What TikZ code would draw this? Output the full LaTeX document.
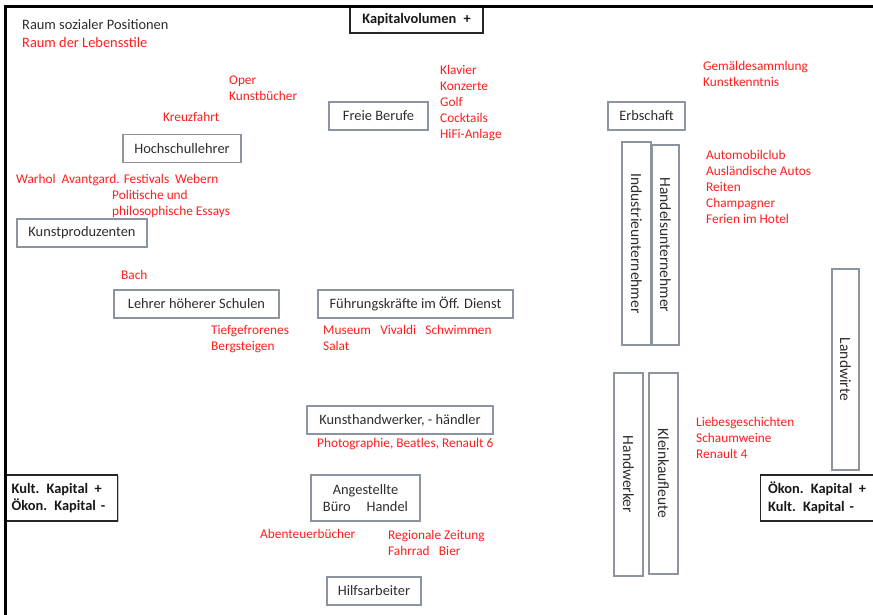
\documentclass[tikz,border=0pt]{standalone}
\usepackage{fontspec}
\setmainfont{Carlito}
\usetikzlibrary{shadows}
\definecolor{boxgray}{RGB}{140,148,160}
\definecolor{txtdark}{RGB}{45,45,45}
\definecolor{lred}{RGB}{255,30,30}
\begin{document}
\begin{tikzpicture}[x=1pt,y=-1pt,
  every node/.style={font=\fontsize{14.4}{17}\selectfont},
  posbox/.style={draw=boxgray,line width=1.1pt,text=txtdark,inner sep=0pt,minimum height=28},
  vbox/.style={posbox,rotate=-90,font=\fontsize{15.5}{17}\selectfont},
  kapbox/.style={draw=black!85,line width=1.2pt,text=black!90,fill=white,font=\bfseries\fontsize{14.4}{17.5}\selectfont,inner sep=0pt,
     drop shadow={shadow xshift=1.2pt,shadow yshift=-1.2pt,fill=black!45}},
  lst/.style={text=lred,anchor=base west,align=left,inner sep=0pt,font=\fontsize{13.3}{16}\selectfont},
  ttl/.style={anchor=base west,inner sep=0pt}]
\useasboundingbox (0,0) rectangle (873,615);
\fill[white] (0,0) rectangle (873,615);
% Kapital boxes
\node[kapbox,minimum width=133,minimum height=26] (kv) at (416.5,20) {Kapitalvolumen\hspace{0.5em}+};
\node[kapbox,minimum width=112,minimum height=46,align=left,anchor=west,text width=100,inner xsep=5pt] (kk) at (5,498) {Kult. Kapital\hspace{0.45em}+\\Ökon. Kapital -};
\node[kapbox,minimum width=125,minimum height=46,align=left,anchor=west,text width=110,inner xsep=7pt] (ok) at (760,498) {Ökon. Kapital\hspace{0.45em}+\\Kult. Kapital -};
% frame
\draw[line width=2.8pt,black] (5.5,615) coordinate (fbl) -- (5.5,6.5) coordinate (ftl) -- (873,6.5) coordinate (ftr);
% titles
\node[ttl,text=txtdark] (t1) at (22,30) {Raum sozialer Positionen};
\node[ttl,text=lred] (t2) at (22,48) {Raum der Lebensstile};
% position boxes
\node[posbox,minimum width=99] (fb) at (378.5,116) {Freie Berufe};
\node[posbox,minimum width=77] (eb) at (646.5,116) {Erbschaft};
\node[posbox,minimum width=118] (hl) at (182,148.5) {Hochschullehrer};
\node[posbox,minimum width=130] (kp) at (82,233) {Kunstproduzenten};
\node[posbox,minimum width=165] (lh) at (196.5,304) {Lehrer höherer Schulen};
\node[posbox,minimum width=195] (fk) at (415.5,304) {Führungskräfte im Öff. Dienst};
\node[posbox,minimum width=186] (kh) at (400,420) {Kunsthandwerker, - händler};
\node[posbox,minimum width=109,minimum height=46,align=center] (an) at (365.5,498) {Angestellte\\Büro\hspace{1.1em}Handel};
\node[posbox,minimum width=94] (hs) at (374,591) {Hilfsarbeiter};
% vertical boxes
\node[vbox,minimum width=203,minimum height=29] (iu) at (636.5,243.5) {Industrieunternehmer};
\node[vbox,minimum width=200,minimum height=27] (hu) at (665.5,245) {Handelsunternehmer};
\node[vbox,minimum width=201,minimum height=27] (lw) at (845.5,369.5) {Landwirte};
\node[vbox,minimum width=203,minimum height=29] (hw) at (628.5,474.5) {Handwerker};
\node[vbox,minimum width=201,minimum height=29] (kl) at (663.5,473.5) {Kleinkaufleute};
% lifestyle lists
\node[lst] (l1) at (229,100.5) {Oper\\Kunstbücher};
\node[lst] (l2) at (163,121.5) {Kreuzfahrt};
\node[lst] (l3) at (440,138.5) {Klavier\\Konzerte\\Golf\\Cocktails\\HiFi-Anlage};
\node[lst] (l4) at (703,86.5) {Gemäldesammlung\\Kunstkenntnis};
\node[lst] (l5) at (16,183.5) {Warhol\ \ Avantgard. Festivals\ \ Webern};
\node[lst] (l6) at (112,215.5) {Politische und\\philosophische Essays};
\node[lst] (l7) at (706,223.5) {Automobilclub\\Ausländische Autos\\Reiten\\Champagner\\Ferien im Hotel};
\node[lst] (l8) at (121,279.5) {Bach};
\node[lst] (l9) at (211,350.5) {Tiefgefrorenes\\Bergsteigen};
\node[lst] (l10) at (323,350.5) {Museum\hspace{0.7em}Vivaldi\hspace{0.7em}Schwimmen\\Salat};
\node[lst] (l11) at (696,458) {Liebesgeschichten\\Schaumweine\\Renault 4};
\node[lst] (l12) at (317,447.5) {Photographie, Beatles, Renault 6};
\node[lst] (l13) at (260,538.5) {Abenteuerbücher};
\node[lst] (l14) at (388,555.5) {Regionale Zeitung\\Fahrrad\hspace{0.7em}Bier};
\end{tikzpicture}
\end{document}
